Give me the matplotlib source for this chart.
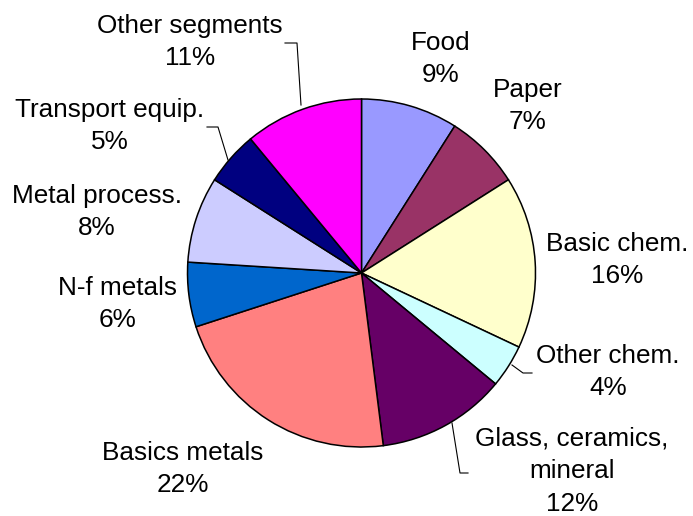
import matplotlib
matplotlib.use("Agg")
import matplotlib.pyplot as plt

# Energy use by industry segment (share in %)
segments = ["Food", "Paper", "Basic chem.", "Other chem.", "Glass, ceramics,\nmineral",
            "Basics metals", "N-f metals", "Metal process.", "Transport equip.",
            "Other segments"]
shares = [9, 7, 16, 4, 12, 22, 6, 8, 5, 11]
colors = ["#9999FF", "#993366", "#FFFFCC", "#CCFFFF", "#660066",
          "#FF8080", "#0066CC", "#CCCCFF", "#000080", "#FF00FF"]

W, H = 693, 516
plt.rcParams["font.family"] = ["Liberation Sans", "DejaVu Sans"]

fig = plt.figure(figsize=(W / 100, H / 100), dpi=100)
ax = fig.add_axes([0, 0, 1, 1])

cx, cy, r = 361.5, H - 273, 174
ax.pie(shares, colors=colors, startangle=90, counterclock=False,
       center=(cx, cy), radius=r, frame=True,
       wedgeprops=dict(edgecolor="black", linewidth=1.1))
ax.set_xlim(0, W)
ax.set_ylim(0, H)
ax.set_aspect("equal")
ax.axis("off")

# label block centres (pixel coordinates from the top-left)
label_pos = [(441, 59), (528, 106), (617, 260), (608, 372), (572, 471),
             (183, 469), (117, 304), (97, 212), (110, 126), (190, 42)]

for name, val, (x, y) in zip(segments, shares, label_pos):
    ax.text(x, H - y, f"{name}\n{val}%", ha="center", va="center",
            fontsize=18.8, linespacing=1.47, color="black")

# leader lines for labels set away from their wedges
leaders = [
    [(301, 105), (297, 43), (285, 43)],
    [(228, 160), (218, 127), (207, 127)],
    [(512, 365), (523, 373), (532, 373)],
    [(452, 423), (460, 473), (468, 473)],
]
for pts in leaders:
    xs = [p[0] for p in pts]
    ys = [H - p[1] for p in pts]
    ax.plot(xs, ys, color="black", linewidth=0.8)

fig.savefig("out.png", dpi=100)
